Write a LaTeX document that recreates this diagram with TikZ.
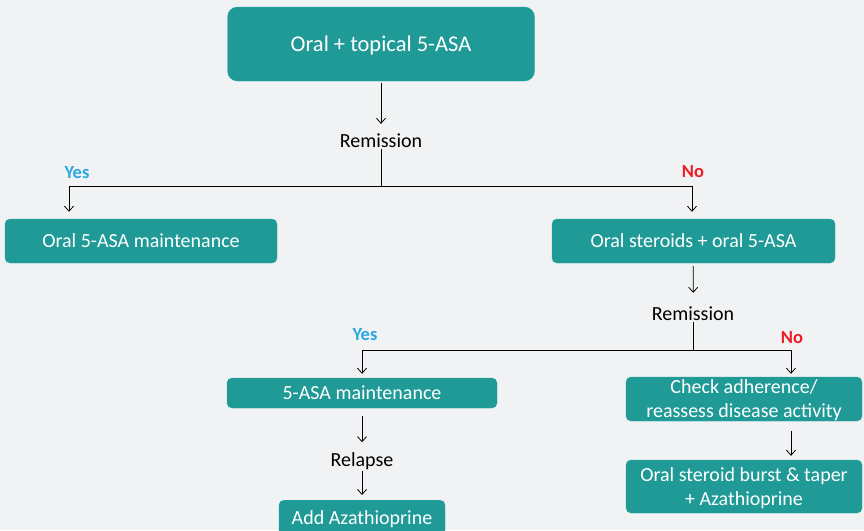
\documentclass[tikz,border=0pt]{standalone}
\usepackage{fontspec}
\setmainfont{Carlito}
\usepackage{tikz}
\usetikzlibrary{positioning, arrows.meta}

\definecolor{boxteal}{HTML}{1F9A96}
\definecolor{boxedge}{HTML}{2BA8A3}
\definecolor{bgrey}{HTML}{F1F2F4}
\definecolor{yesblue}{HTML}{2AA8E0}
\definecolor{nored}{HTML}{EE1C25}

\begin{document}
\begin{tikzpicture}[
    x=1pt, y=-1pt,
    stepbox/.style={draw=boxedge, fill=boxteal, rounded corners=5pt, text=white, align=center, font=\fontsize{20}{24}\selectfont, inner sep=0pt, text depth=0pt},
    plain/.style={font=\fontsize{20}{24}\selectfont, inner sep=1pt},
    yeslbl/.style={font=\bfseries\fontsize{18.5}{22}\selectfont, text=yesblue},
    nolbl/.style={font=\bfseries\fontsize{18.5}{22}\selectfont, text=nored},
    flow/.style={draw, line width=0.8pt, -{Straight Barb[length=5pt, width=9pt]}},
    link/.style={draw, line width=0.8pt}
]
\useasboundingbox[fill=bgrey] (0,0) rectangle (864,530);

% boxes
\node[stepbox, minimum width=307pt, minimum height=74pt, rounded corners=10pt, font=\fontsize{22.5}{26}\selectfont] (start) at (381,44) {Oral + topical 5-ASA};
\node[plain] (rem1) at (381,141) {Remission};
\node[stepbox, minimum width=272pt, minimum height=44pt] (maint1) at (141,241) {Oral 5-ASA maintenance};
\node[stepbox, minimum width=283pt, minimum height=44pt] (steroids) at (693.5,241) {Oral steroids + oral 5-ASA};
\node[plain] (rem2) at (693,314) {Remission};
\node[stepbox, minimum width=270pt, minimum height=30pt] (maint2) at (362,393) {5-ASA maintenance};
\node[plain] (relapse) at (362,461) {Relapse};
\node[stepbox, minimum width=166pt, minimum height=35pt, anchor=north] (aza) at (362,500) {Add Azathioprine};
\node[stepbox, minimum width=236pt, minimum height=44pt] (check) at (744,399) {Check adherence/\\reassess disease activity};
\node[stepbox, minimum width=236pt, minimum height=53pt] (burst) at (744,486.5) {Oral steroid burst \& taper\\+ Azathioprine};

% yes / no labels
\node[yeslbl] (yes1) at (77,173) {Yes};
\node[nolbl] (no1) at (693,172) {No};
\node[yeslbl] (yes2) at (365,335) {Yes};
\node[nolbl] (no2) at (792,338) {No};

% split points
\coordinate (split1) at (381,186);
\coordinate (left1) at (69,186);
\coordinate (right1) at (692,186);
\coordinate (split2) at (693,350);
\coordinate (left2) at (362,350);
\coordinate (right2) at (791,350);

% connectors
\draw[flow, shorten <=2pt, shorten >=9pt] (start) -- (rem1);
\draw[link] (rem1) -- (split1);
\draw[link] (left1) -- (right1);
\draw[flow, shorten >=7pt] (left1) -- (left1 |- maint1.north);
\draw[flow, shorten >=7pt] (right1) -- (right1 |- steroids.north);
\draw[flow, shorten <=3pt, shorten >=13pt] (steroids) -- (rem2);
\draw[link] (rem2) -- (split2);
\draw[link] (left2) -- (right2);
\draw[flow, shorten >=4pt] (left2) -- (left2 |- maint2.north);
\draw[flow, shorten >=3pt] (right2) -- (right2 |- check.north);
\draw[flow, shorten <=8pt, shorten >=9pt] (maint2) -- (relapse);
\draw[flow, shorten >=5pt] (relapse) -- (aza);
\draw[flow, shorten <=10pt, shorten >=4pt] (right2 |- check.south) -- (right2 |- burst.north);
\end{tikzpicture}
\end{document}
